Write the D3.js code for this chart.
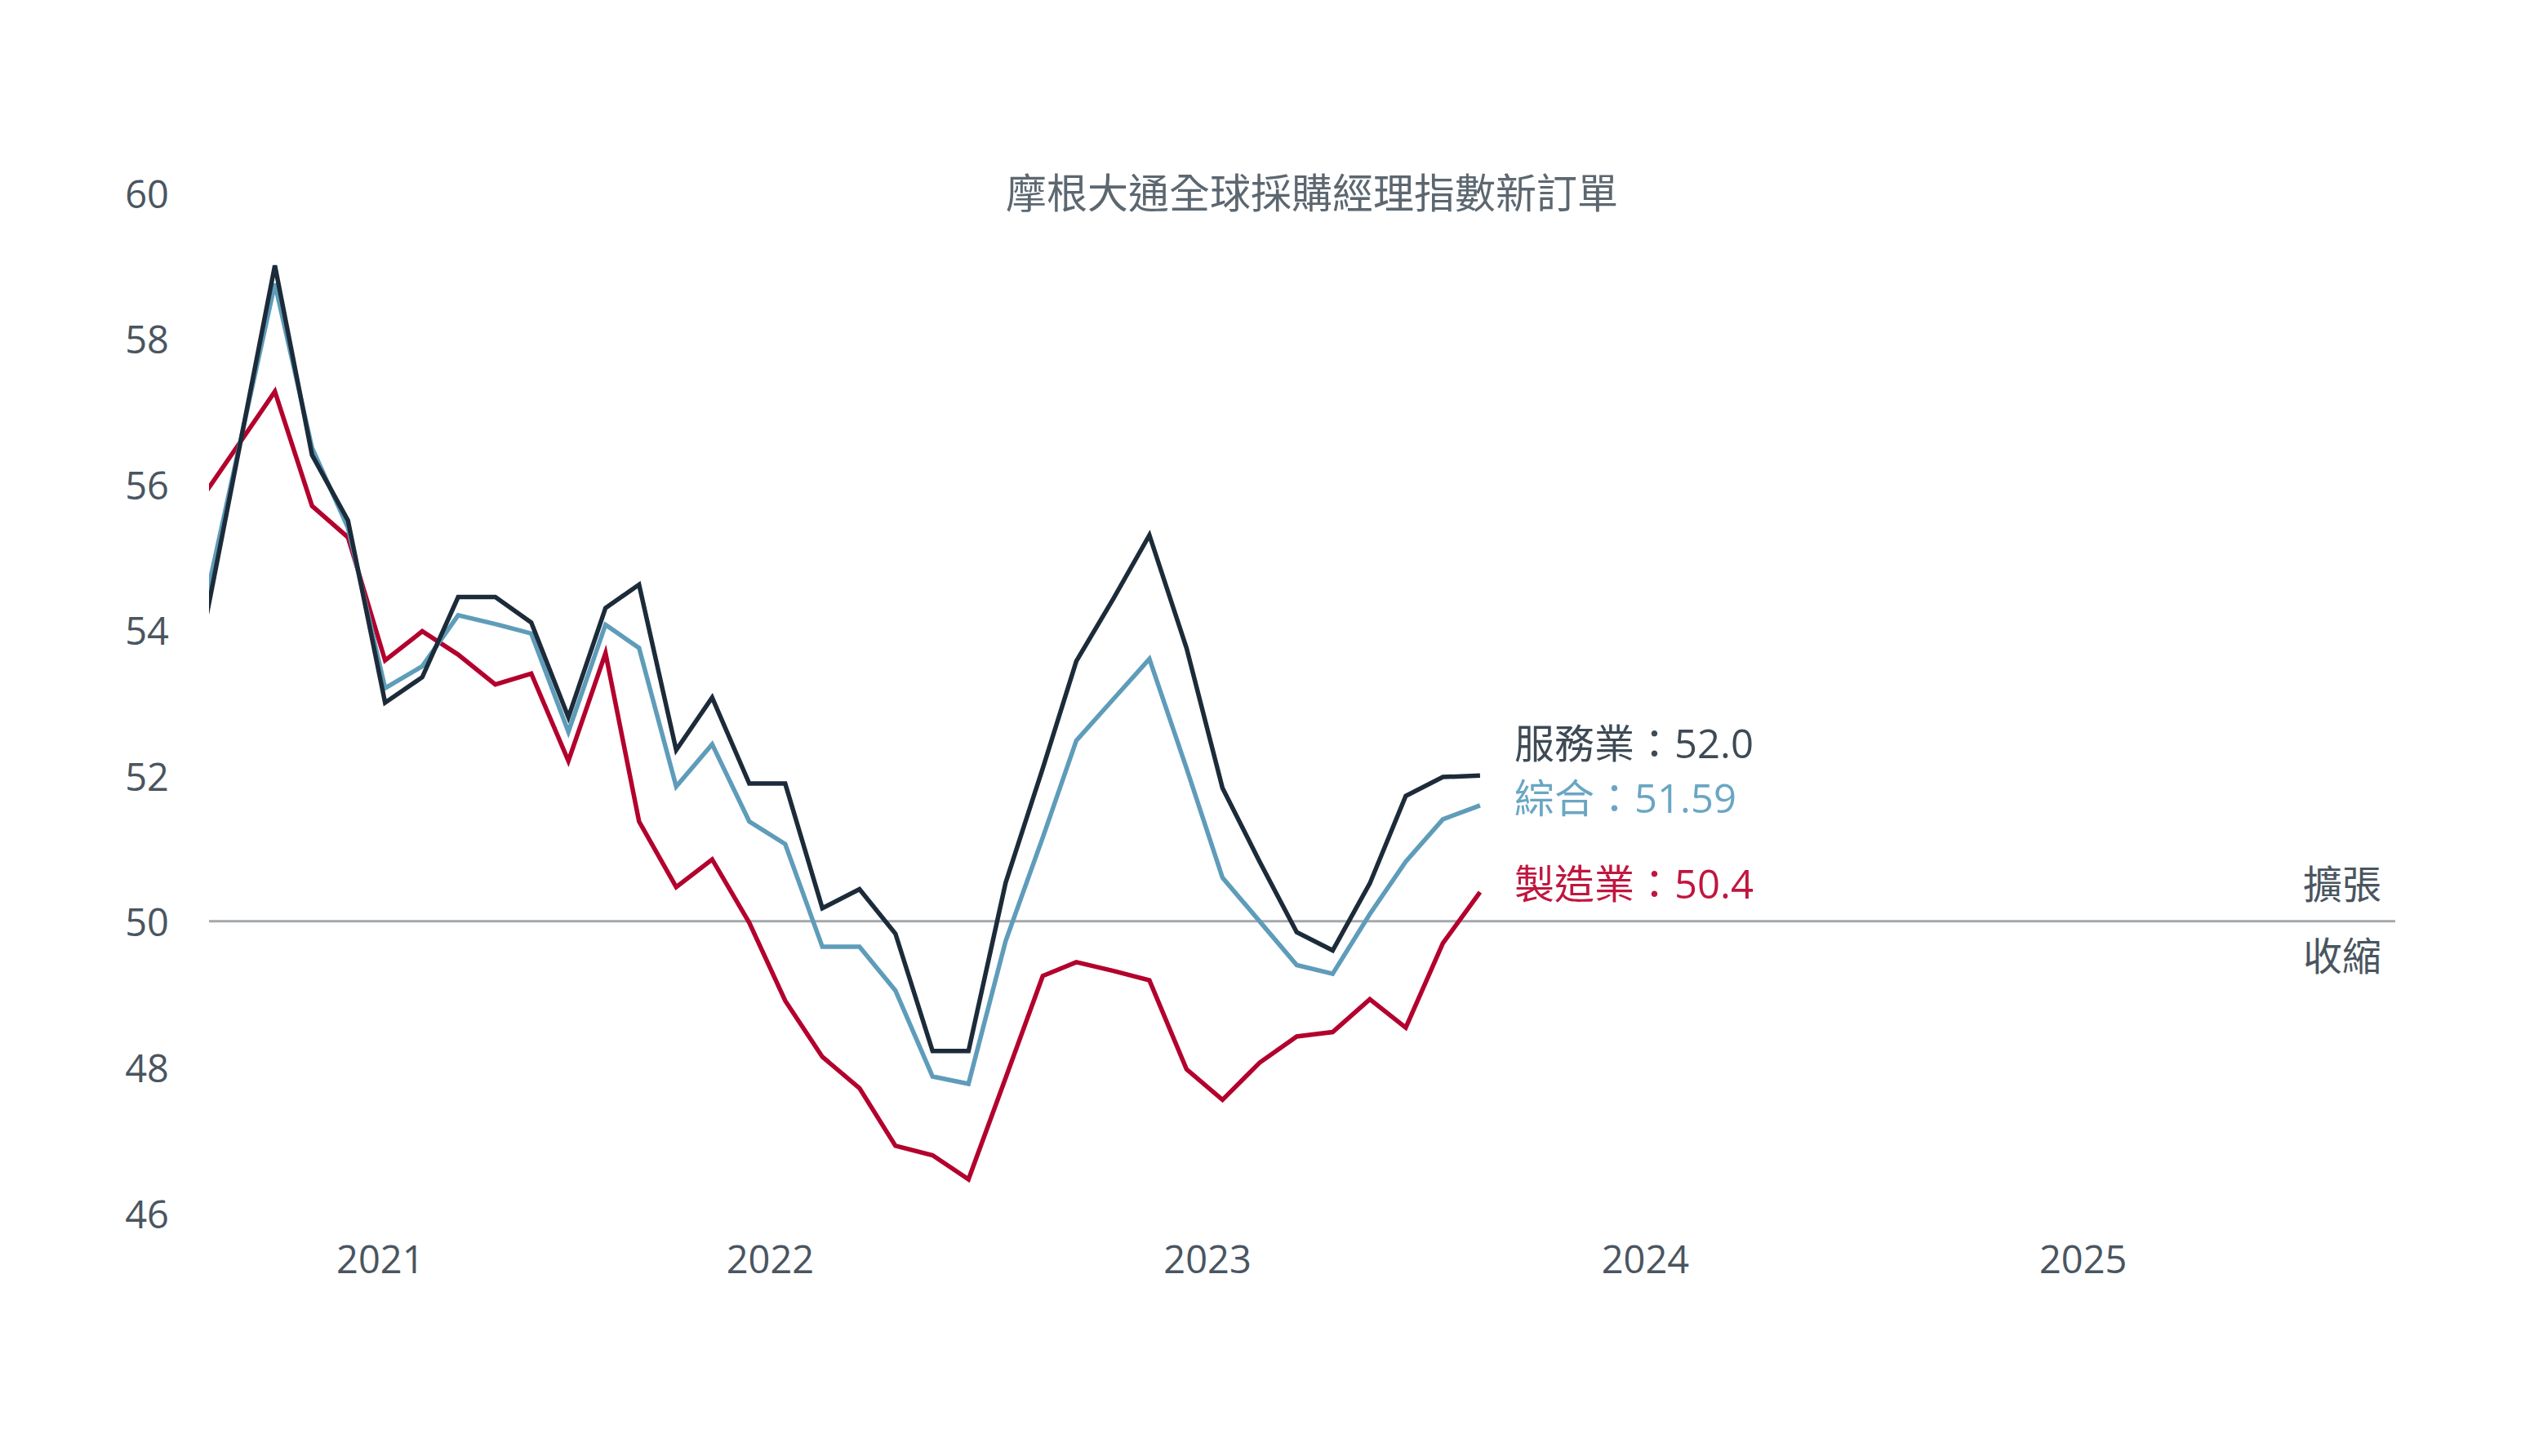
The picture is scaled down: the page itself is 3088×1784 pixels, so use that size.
<!DOCTYPE html>
<html>
<head>
<meta charset="utf-8">
<script src="https://cdn.jsdelivr.net/npm/d3@7"></script>
<style>
  html, body { margin: 0; padding: 0; background: #ffffff; }
  svg { display: block; }
  text { font-family: "Open Sans", "Noto Sans CJK TC", "Noto Sans", sans-serif; }
</style>
</head>
<body>
<svg id="chart" width="3088" height="1784"></svg>
<script>
// ---- data ----
const title = "摩根大通全球採購經理指數新訂單";
const months = ["2021-03","2021-04","2021-05","2021-06","2021-07","2021-08","2021-09","2021-10","2021-11","2021-12",
                "2022-01","2022-02","2022-03","2022-04","2022-05","2022-06","2022-07","2022-08","2022-09","2022-10","2022-11","2022-12",
                "2023-01","2023-02","2023-03","2023-04","2023-05","2023-06","2023-07","2023-08","2023-09","2023-10","2023-11","2023-12",
                "2024-01","2024-02"];
const services = [53.86,56.47,59.0,56.4,55.5,53.0,53.35,54.45,54.45,54.1,
                  52.8,54.3,54.62,52.35,53.07,51.89,51.89,50.18,50.44,49.83,48.22,48.22,
                  50.53,52.1,53.57,54.43,55.3,53.75,51.83,50.82,49.85,49.6,50.52,51.72,
                  51.98,52.0];
const composite = [54.16,56.5,58.75,56.5,55.4,53.2,53.5,54.2,54.08,53.95,
                   52.6,54.07,53.75,51.85,52.43,51.37,51.06,49.65,49.65,49.05,47.87,47.77,
                   49.73,51.15,52.48,53.05,53.6,52.1,50.6,50.0,49.4,49.28,50.1,50.82,
                   51.4,51.59];
const manufacturing = [55.81,56.55,57.27,55.7,55.27,53.58,53.98,53.66,53.25,53.4,
                       52.2,53.68,51.37,50.47,50.85,49.98,48.91,48.14,47.71,46.92,46.79,46.46,
                       47.85,49.25,49.44,49.32,49.19,47.97,47.55,48.06,48.42,48.48,48.93,48.54,
                       49.7,50.4];
const seriesNames = ["服務業", "綜合", "製造業"];
const seriesLabelValues = ["52.0", "51.59", "50.4"];
const yTicks = [46, 48, 50, 52, 54, 56, 58, 60];
const yearLabels = ["2021", "2022", "2023", "2024", "2025"];
const thresholdValue = 50;
const aboveLabel = "擴張";
const belowLabel = "收縮";

// ---- layout / style ----
const colors = ["#1c2b39", "#5e9cba", "#b3002d"];
const labelColors = ["#3e4a55", "#6aa6c4", "#c0163f"];
const labelY = [910, 977, 1082];
const textGrey = "#4a5560";

const svg = d3.select("#chart");
const parseMonth = s => { const [y, m] = s.split("-").map(Number); return new Date(y, m - 1, 15); };
const dates = months.map(parseMonth);

const x = d3.scaleTime()
  .domain([new Date(2021, 2, 21), new Date(2026, 2, 20)])
  .range([256, 2934]);
const y = d3.scaleLinear().domain([46, 60]).range([1486, 236]);

svg.append("defs").append("clipPath").attr("id", "plotClip")
  .append("rect")
  .attr("x", x.range()[0]).attr("y", 0)
  .attr("width", x.range()[1] - x.range()[0]).attr("height", 1784);

// title
svg.append("text")
  .attr("x", 1607).attr("y", 236)
  .attr("text-anchor", "middle").attr("dominant-baseline", "central")
  .attr("font-size", 50).attr("fill", "#5c6770")
  .text(title);

// y axis labels
const yAxis = d3.axisLeft(y).tickValues(yTicks).tickSize(0).tickPadding(0).tickFormat(d3.format("d"));
const gy = svg.append("g").attr("transform", "translate(207,0)").call(yAxis);
gy.select(".domain").remove();
gy.selectAll("text")
  .attr("font-size", 47).attr("fill", textGrey)
  .attr("font-family", "'Open Sans', 'Noto Sans', sans-serif")
  .attr("dy", null).attr("dominant-baseline", "central");

// x year labels (centred on visible part of each year)
const [d0, d1] = x.domain();
yearLabels.forEach(yr => {
  const a = new Date(+yr, 0, 1), b = new Date(+yr + 1, 0, 1);
  const s = a < d0 ? d0 : a, e = b > d1 ? d1 : b;
  const cx = (x(s) + x(e)) / 2;
  svg.append("text")
    .attr("x", cx).attr("y", 1542)
    .attr("text-anchor", "middle").attr("dominant-baseline", "central")
    .attr("font-size", 47).attr("fill", textGrey)
    .text(yr);
});

// threshold line
svg.append("line")
  .attr("x1", x.range()[0]).attr("x2", x.range()[1])
  .attr("y1", y(thresholdValue)).attr("y2", y(thresholdValue))
  .attr("stroke", "#a3a8ad").attr("stroke-width", 3);

svg.append("text").attr("x", 2917).attr("y", 1082)
  .attr("text-anchor", "end").attr("dominant-baseline", "central")
  .attr("font-size", 48).attr("fill", textGrey).text(aboveLabel);
svg.append("text").attr("x", 2917).attr("y", 1170)
  .attr("text-anchor", "end").attr("dominant-baseline", "central")
  .attr("font-size", 48).attr("fill", textGrey).text(belowLabel);

// lines
const line = d3.line().x((d, i) => x(dates[i])).y(d => y(d));
const allSeries = [services, composite, manufacturing];
const gLines = svg.append("g").attr("clip-path", "url(#plotClip)");
[2, 1, 0].forEach(k => {
  gLines.append("path")
    .datum(allSeries[k])
    .attr("d", line)
    .attr("fill", "none")
    .attr("stroke", colors[k])
    .attr("stroke-width", 5.5)
    .attr("stroke-linejoin", "miter")
    .attr("stroke-linecap", "butt");
});

// series labels
seriesNames.forEach((n, k) => {
  svg.append("text")
    .attr("x", 1855).attr("y", labelY[k])
    .attr("dominant-baseline", "central")
    .attr("font-size", 49).attr("fill", labelColors[k])
    .text(n + "：" + seriesLabelValues[k]);
});
</script>
</body>
</html>
